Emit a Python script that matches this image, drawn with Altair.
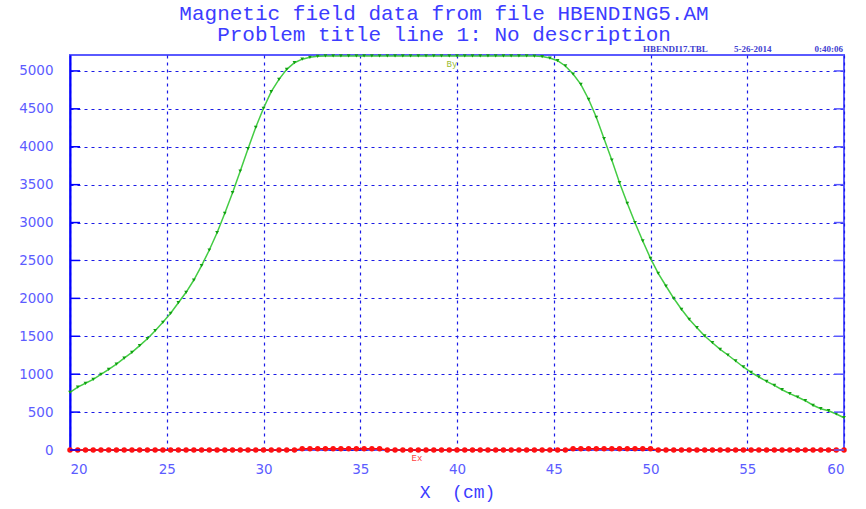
import altair as alt
import pandas as pd

# ---- data ----
x_cm = [20.0, 20.4, 20.8, 21.2, 21.6, 22.0, 22.4, 22.8, 23.2, 23.6,
        24.0, 24.4, 24.8, 25.2, 25.6, 26.0, 26.4, 26.8, 27.2, 27.6,
        28.0, 28.4, 28.8, 29.2, 29.6, 30.0, 30.4, 30.8, 31.2, 31.6,
        32.0, 32.4, 32.8, 33.2, 33.6, 34.0, 34.4, 34.8, 35.2, 35.6,
        36.0, 36.4, 36.8, 37.2, 37.6, 38.0, 38.4, 38.8, 39.2, 39.6,
        40.0, 40.4, 40.8, 41.2, 41.6, 42.0, 42.4, 42.8, 43.2, 43.6,
        44.0, 44.4, 44.8, 45.2, 45.6, 46.0, 46.4, 46.8, 47.2, 47.6,
        48.0, 48.4, 48.8, 49.2, 49.6, 50.0, 50.4, 50.8, 51.2, 51.6,
        52.0, 52.4, 52.8, 53.2, 53.6, 54.0, 54.4, 54.8, 55.2, 55.6,
        56.0, 56.4, 56.8, 57.2, 57.6, 58.0, 58.4, 58.8, 59.2, 59.6,
        60.0]

by_gauss = [760, 830, 880, 932, 998, 1064, 1134, 1213, 1288, 1376,
            1468, 1574, 1684, 1803, 1943, 2080, 2242, 2431, 2638, 2866,
            3122, 3394, 3680, 3974, 4256, 4507, 4726, 4889, 5021, 5108,
            5155, 5180, 5192, 5197, 5198, 5198, 5198, 5198, 5198, 5198,
            5198, 5198, 5198, 5198, 5198, 5198, 5198, 5198, 5198, 5198,
            5198, 5198, 5198, 5198, 5198, 5198, 5198, 5198, 5198, 5197,
            5196, 5190, 5170, 5135, 5065, 4959, 4822, 4626, 4388, 4106,
            3825, 3526, 3254, 2998, 2757, 2528, 2331, 2163, 2001, 1856,
            1724, 1613, 1504, 1415, 1328, 1253, 1174, 1095, 1025, 963,
            906, 853, 795, 743, 699, 650, 590, 545, 518, 475,
            426]

ex_gauss = [0, 0, 0, 0, 0, 0, 0, 0, 0, 0,
            0, 0, 0, 0, 0, 0, 0, 0, 0, 0,
            0, 0, 0, 0, 0, 0, 0, 0, 0, 0,
            15, 15, 15, 15, 15, 15, 15, 15, 15, 15,
            15, 0, 0, 0, 0, 0, 0, 0, 0, 0,
            0, 0, 0, 0, 0, 0, 0, 0, 0, 0,
            0, 0, 0, 0, 0, 15, 15, 15, 15, 15,
            15, 15, 15, 15, 15, 15, 0, 0, 0, 0,
            0, 0, 0, 0, 0, 0, 0, 0, 0, 0,
            0, 0, 0, 0, 0, 0, 0, 0, 0, 0,
            0]

y_ticks = [0, 500, 1000, 1500, 2000, 2500, 3000, 3500, 4000, 4500, 5000]
x_ticks = [20, 25, 30, 35, 40, 45, 50, 55, 60]

title_line1 = "Magnetic field data from file HBENDING5.AM"
title_line2 = "Problem title line 1: No description"
x_title = "X\u00a0\u00a0(cm)"
stamp_file, stamp_date, stamp_time = "HBENDI17.TBL", "5-26-2014", "0:40:06"

df = pd.DataFrame({"x": x_cm, "By": by_gauss, "Ex": ex_gauss})
tdf = pd.DataFrame({"v": y_ticks})
one = pd.DataFrame({"a": [0]})

W, H = 774, 395
BLUE_TXT = "#3c3cff"
BLUE_LBL = "#5c5cff"
GRID = "#1a1ae6"

xs = alt.Scale(domain=[20, 60], nice=False)
ys = alt.Scale(domain=[0, 5210], nice=False)

x_axis = alt.Axis(values=x_ticks, format="d", title=x_title, grid=True,
                  gridColor=GRID, gridDash=[3, 4], gridWidth=1.2,
                  ticks=False, domain=False, labelPadding=12,
                  labelFont="DejaVu Sans", labelFontSize=13.5, labelColor=BLUE_LBL,
                  titleFont="Liberation Mono", titleFontSize=18,
                  titleFontWeight="normal", titleColor=BLUE_TXT, titlePadding=8)
y_axis = alt.Axis(values=y_ticks, format="d", title=None, grid=True,
                  gridColor=GRID, gridDash=[3, 4], gridWidth=1.2,
                  ticks=False, domain=True, domainColor="#0000ff", domainWidth=2,
                  labelPadding=17, labelFont="DejaVu Sans", labelFontSize=13.5,
                  labelColor=BLUE_LBL)


def X(field="x"):
    return alt.X(f"{field}:Q", scale=xs, axis=x_axis)


def Y(field):
    return alt.Y(f"{field}:Q", scale=ys, axis=y_axis)


base = alt.Chart(df)

by_line = base.mark_line(color="#44cc44", strokeWidth=1.5).encode(x=X(), y=Y("By"))
by_pts = base.mark_point(shape="triangle-down", filled=True, size=14,
                         color="#10a010", opacity=1).encode(x=X(), y=Y("By"))
ex_line = base.mark_line(color="#ff0000", strokeWidth=1.5).encode(x=X(), y=Y("Ex"))
ex_pts = base.mark_circle(size=30, color="#ff1010", opacity=1).encode(x=X(), y=Y("Ex"))

tick_l = alt.Chart(tdf).mark_rule(color="#0000ff", strokeWidth=1.5).encode(
    y=Y("v"), x=alt.value(0), x2=alt.value(10))
tick_r = alt.Chart(tdf).mark_rule(color="#5a5aff", strokeWidth=1.5).encode(
    y=Y("v"), x=alt.value(W - 10), x2=alt.value(W))

stamp_font = dict(font="Liberation Serif", fontSize=9, fontWeight="bold",
                  color="#4040d0", baseline="middle")
t1 = alt.Chart(one).mark_text(text=stamp_file, align="left", **stamp_font).encode(
    x=alt.value(573), y=alt.value(-6))
t2 = alt.Chart(one).mark_text(text=stamp_date, align="left", **stamp_font).encode(
    x=alt.value(664), y=alt.value(-6))
t3 = alt.Chart(one).mark_text(text=stamp_time, align="right", **stamp_font).encode(
    x=alt.value(W - 1), y=alt.value(-6))

lab_by = alt.Chart(one).mark_text(text="By", font="Liberation Mono", fontSize=9,
                                  color="#99bb33", baseline="middle").encode(
    x=alt.value(382), y=alt.value(9))
lab_ex = alt.Chart(one).mark_text(text="Ex", font="Liberation Mono", fontSize=9,
                                  color="#ff4040", baseline="middle").encode(
    x=alt.value(347), y=alt.value(403))

chart = alt.layer(
    by_line, by_pts, ex_line, ex_pts, tick_l, tick_r, t1, t2, t3, lab_by, lab_ex
).properties(
    width=W, height=H,
    title=alt.TitleParams(text=title_line1, subtitle=title_line2,
                          font="Liberation Mono", fontSize=21,
                          fontWeight="normal", color=BLUE_TXT,
                          subtitleFont="Liberation Mono", subtitleFontSize=21,
                          subtitleFontWeight="normal", subtitleColor=BLUE_TXT,
                          subtitlePadding=0, anchor="middle",
                          dx=-13, offset=0),
    padding={"left": 70, "top": 55, "right": 22, "bottom": 59},
    autosize=alt.AutoSizeParams(type="none"),
).configure_view(stroke="#5a5aff", strokeWidth=2)

chart.save("out.html", embed_options={"renderer": "svg", "actions": False})
